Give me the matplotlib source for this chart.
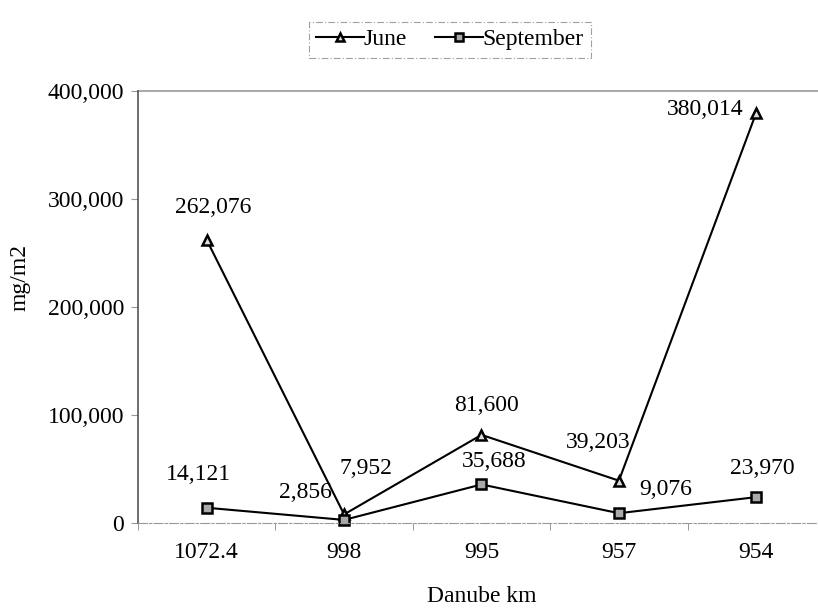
import matplotlib.pyplot as plt
from matplotlib.ticker import FuncFormatter, FixedLocator

plt.rcParams['font.family'] = ['Liberation Serif', 'DejaVu Serif']

km = ['1072.4', '998', '995', '957', '954']
june = [262076, 7952, 81600, 39203, 380014]
september = [14121, 2856, 35688, 9076, 23970]

# label offsets in pixels (dx, dy) from each marker
june_off = [(6, 32), (22, 46), (5, 29), (-21, 38), (-51, 3)]
sept_off = [(-8, 33), (-39, 27), (13, 23), (47, 24), (6, 29)]

fs = 17

fig = plt.figure(figsize=(8.18, 6.14), dpi=100)
ax = fig.add_axes([138 / 818, 1 - 523 / 614, 687 / 818, 432 / 614])

x = list(range(len(km)))
l1, = ax.plot(x, june, color='black', lw=1.5, marker='^', ms=7,
              mfc='#dddddd', mec='black', mew=1.8, label='June', clip_on=False)
l2, = ax.plot(x, september, color='black', lw=1.5, marker='s', ms=6.5,
              mfc='#aaaaaa', mec='black', mew=1.8, label='September', clip_on=False)

for xi, v, (dx, dy) in zip(x, june, june_off):
    ax.annotate(f'{v:,}', (xi, v), xytext=(dx, dy), textcoords='offset pixels',
                ha='center', va='center', fontsize=fs)
for xi, v, (dx, dy) in zip(x, september, sept_off):
    ax.annotate(f'{v:,}', (xi, v), xytext=(dx, dy), textcoords='offset pixels',
                ha='center', va='center', fontsize=fs)

ax.set_xlim(-0.5, len(km) - 0.5)
ax.set_ylim(0, 400000)
ax.set_yticks([0, 100000, 200000, 300000, 400000])
ax.yaxis.set_major_formatter(FuncFormatter(lambda v, p: f'{int(v):,}'))
ax.set_xticks(x)
ax.set_xticklabels(km)
ax.xaxis.set_minor_locator(FixedLocator([i - 0.5 for i in range(len(km) + 1)]))
ax.tick_params(axis='x', which='major', length=0, pad=14, labelsize=fs)
ax.tick_params(axis='x', which='minor', length=5, color='#888888', direction='out')
ax.tick_params(axis='y', length=5, color='#999999', labelsize=fs, pad=5)

for s in ['top', 'right']:
    ax.spines[s].set_visible(False)
ax.spines['left'].set_color('#555555')
ax.spines['left'].set_linewidth(1.2)
ax.spines['bottom'].set_color('#999999')
ax.spines['bottom'].set_linestyle((0, (8, 2, 2, 2)))
ax.axhline(400000, color='#999999', lw=1.2, clip_on=False)

ax.set_ylabel('mg/m2', fontsize=fs)
ax.yaxis.set_label_coords(-0.157, 0.569)
ax.set_xlabel('Danube km', fontsize=fs, labelpad=16)

leg = fig.legend(handles=[l1, l2], loc='upper center',
                 bbox_to_anchor=(450 / 818, 1 - 10 / 614), ncol=2, fontsize=fs,
                 frameon=True, fancybox=False, handlelength=2.0,
                 handletextpad=0.0, columnspacing=1.2, borderpad=0.3)
leg.get_frame().set_edgecolor('#888888')
leg.get_frame().set_linestyle((0, (6, 2, 1, 2)))
leg.get_frame().set_linewidth(0.8)
for h in leg.legend_handles:
    h.set_markersize(6)

fig.savefig('out.png', dpi=100)
